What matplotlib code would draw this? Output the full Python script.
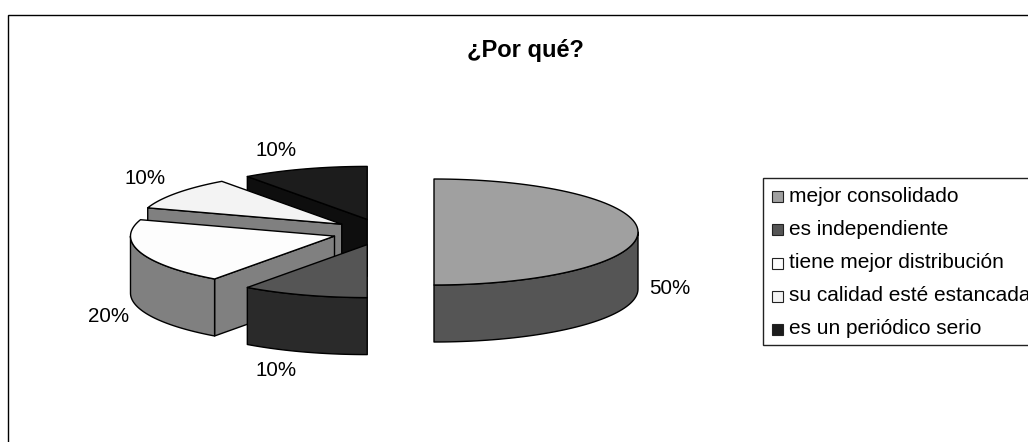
# plot.py
# exploded 3D style pie, drawn by hand since matplotlib has no 3D pie

import numpy as np
import matplotlib
matplotlib.use("Agg")
import matplotlib.pyplot as plt
from matplotlib.patches import Polygon, Rectangle

plt.rcParams['font.family'] = ['Liberation Sans', 'DejaVu Sans']

title = "¿Por qué?"
categories = ["mejor consolidado", "es independiente", "tiene mejor distribución",
              "su calidad esté estancada", "es un periódico serio"]
shares = [50, 10, 20, 10, 10]
top_colors = ["#a0a0a0", "#555555", "#fdfdfd", "#f3f3f3", "#1c1c1c"]
side_colors = ["#555555", "#2a2a2a", "#808080", "#808080", "#0e0e0e"]
label_pos = [(670, 288), (276, 371), (109, 316), (145, 179), (276, 151)]

# pie geometry in pixels
cx, cy = 383, 232
rx, ry = 204, 53
depth = 57
explode = 51


def point(x0, y0, a):
    # a is in degrees, clockwise from the top
    r = np.radians(a)
    return x0 + rx * np.sin(r), y0 - ry * np.cos(r)


def draw_slice(ax, start, end, top, side):
    mid = np.radians((start + end) / 2)
    x0 = cx + explode * np.sin(mid)
    y0 = cy - explode * ry / rx * np.cos(mid)
    style = dict(edgecolor="black", linewidth=1.0, joinstyle="round")

    # radial walls, only the ones facing the viewer
    for a, normal in ((start, start - 90), (end, end + 90)):
        if np.cos(np.radians(normal)) < -1e-9:
            px, py = point(x0, y0, a)
            ax.add_patch(Polygon([(x0, y0), (px, py), (px, py + depth), (x0, y0 + depth)],
                                 facecolor=side, **style))

    # front part of the rim
    lo, hi = max(start, 90), min(end, 270)
    if lo < hi:
        angles = np.linspace(lo, hi, 60)
        upper = [point(x0, y0, a) for a in angles]
        lower = [(x, y + depth) for x, y in upper[::-1]]
        ax.add_patch(Polygon(upper + lower, facecolor=side, **style))

    # top face
    angles = np.linspace(start, end, 80)
    ax.add_patch(Polygon([(x0, y0)] + [point(x0, y0, a) for a in angles],
                         facecolor=top, **style))


fig = plt.figure(figsize=(10.28, 4.42), dpi=100)
ax = fig.add_axes([0, 0, 1, 1])
ax.set_xlim(0, 1028)
ax.set_ylim(442, 0)
ax.axis("off")

# outer chart frame, runs off the right and bottom of the picture
ax.add_patch(Rectangle((8, 14.5), 1100, 500, facecolor="white", edgecolor="black", linewidth=1.0))

ends = np.cumsum(shares) * 360.0 / sum(shares)
starts = ends - np.array(shares) * 360.0 / sum(shares)

# back slices first
order = sorted(range(len(shares)), key=lambda i: -np.cos(np.radians((starts[i] + ends[i]) / 2)))
for i in order:
    draw_slice(ax, starts[i], ends[i], top_colors[i], side_colors[i])

for share, (x, y) in zip(shares, label_pos):
    ax.text(x, y, f"{share}%", fontsize=14.8, ha="center", va="center")

ax.text(525.5, 50, title, fontsize=17, fontweight="bold", ha="center", va="center")

# legend box
ax.add_patch(Rectangle((762.5, 177.5), 300, 167.5, facecolor="white", edgecolor="#222222", linewidth=1.0))
for i, name in enumerate(categories):
    y = 196 + i * 33.25
    ax.add_patch(Rectangle((771.5, y - 5), 11, 11, facecolor=top_colors[i], edgecolor="#222222", linewidth=0.8))
    ax.text(789, y, name, fontsize=15, ha="left", va="center")

fig.savefig("out.png", dpi=100)
